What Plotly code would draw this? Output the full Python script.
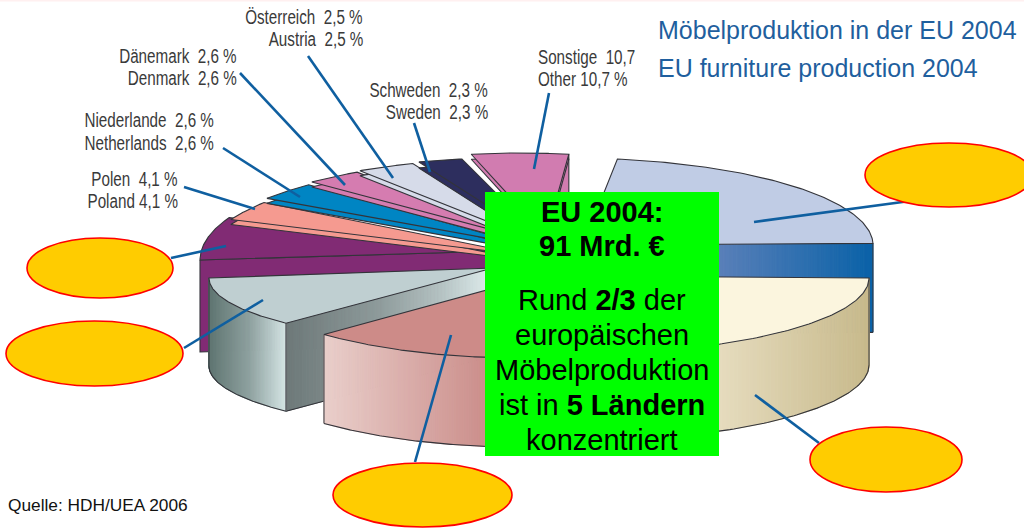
import numpy as np
import plotly.graph_objects as go

# ---------- data (hidden labels: values) ----------
SLICE_NAMES = ["Sonstige", "Schweden", "Österreich", "Dänemark", "Niederlande", "Polen",
               "Verdeckt A", "Verdeckt B", "Verdeckt C", "Verdeckt D", "Verdeckt E"]
SLICE_VALUES = [10.7, 2.3, 2.5, 2.6, 2.6, 4.1, 6.0, 12.0, 11.0, 24.0, 22.2]
LABEL_LINES = [
    ("Österreich\u00a0\u00a02,5 %", "Austria\u00a0\u00a02,5 %"),
    ("Dänemark\u00a0\u00a02,6 %", "Denmark\u00a0\u00a02,6 %"),
    ("Niederlande\u00a0\u00a02,6 %", "Netherlands\u00a0\u00a02,6 %"),
    ("Polen\u00a0\u00a04,1 %", "Poland 4,1 %"),
    ("Schweden\u00a0\u00a02,3 %", "Sweden\u00a0\u00a02,3 %"),
    ("Sonstige\u00a0\u00a010,7", "Other 10,7 %"),
]
TITLE_LINES = ["Möbelproduktion in der EU 2004", "EU furniture production 2004"]
BOX_LINES = ["<b>EU 2004:</b>", "<b>91 Mrd. €</b>", "Rund <b>2/3</b> der", "europäischen",
             "Möbelproduktion", "ist in <b>5 Ländern</b>", "konzentriert"]
SOURCE = "Quelle: HDH/UEA 2006"

# ---------- drawing parameters: projection of each slice ----------
# name: cx, cy, rx, ry, start angle, degrees-per-percent factor, apex, colour
VAL = dict(zip(SLICE_NAMES, SLICE_VALUES))
PROJ = {
    "Verdeckt A": (490, 260, 290, 97, 180, 1.2, (500, 251), "#812b74"),
    "Polen": (505, 262, 305, 97, 154, 0.8, (530, 256), "#f59a90"),
    "Niederlande": (505, 259, 305, 97, 141.3, 1.2, (530, 246), "#0085c3"),
    "Dänemark": (505, 257, 305, 97, 129.3, 1.1, (530, 240), "#d57cb0"),
    "Österreich": (505, 256, 305, 97, 118.4, 1.2, (529, 238), "#d6dbe9"),
    "Schweden": (505, 255, 305, 97, 106.4, 1, (546, 243), "#2d2e5e"),
    "Sonstige": (520, 250, 305, 97, 99.2, 0.478, (546, 236), "#d17cb0"),
    "Verdeckt E": (570, 245, 303, 87, 81, 1, (583, 245), "#c0cce5"),
    "Verdeckt B": (493, 278, 284, 66, -136.8, 1, (493, 268), "#bfcfd1"),
    "Verdeckt D": (575, 278, 294, 76, 0, 1, (575, 276), "#fbf5de"),
    "Verdeckt C": (520, 261, 300, 97, -91.2, 1, (560, 270), "#cd8b88"),
}
EDGE = "#33343a"
LEADER = "#0f5fa0"


def arc(name, n=96):
    cx, cy, rx, ry, start, k, apex, col = PROJ[name]
    t = np.radians(np.linspace(start, start - VAL[name] * 3.6 * k, n))
    return cx + rx * np.cos(t), cy - ry * np.sin(t)


fig = go.Figure()


def poly(x, y, fill, line=None, w=1.0):
    fig.add_trace(go.Scatter(x=list(x), y=list(y), mode="lines", fill="toself", fillcolor=fill,
                             line=dict(color=line or fill, width=w), hoverinfo="skip", showlegend=False))


def stroke(x, y, col=EDGE, w=1.0):
    fig.add_trace(go.Scatter(x=list(x), y=list(y), mode="lines", line=dict(color=col, width=w),
                             hoverinfo="skip", showlegend=False))


def wedge(name, dy=0):
    ax, ay = arc(name)
    apex = PROJ[name][6]
    poly(np.r_[apex[0], ax, apex[0]], np.r_[apex[1], ay, apex[1]] + dy, PROJ[name][7], EDGE, 1.1)


def hex2rgb(c):
    return np.array([int(c[i:i + 2], 16) for i in (1, 3, 5)], float)


def shade(x, stops):
    xs = [s[0] for s in stops]
    cols = np.array([hex2rgb(s[1]) for s in stops])
    v = [np.interp(x, xs, cols[:, i]) for i in range(3)]
    return "rgb(%d,%d,%d)" % tuple(v)


def wall(xs, ys, h, stops):
    for i in range(len(xs) - 1):
        xm = (xs[i] + xs[i + 1]) / 2
        poly([xs[i], xs[i + 1], xs[i + 1], xs[i], xs[i]],
             [ys[i], ys[i + 1], ys[i + 1] + h, ys[i] + h, ys[i]], shade(xm, stops), None, 1.0)
    stroke(xs, np.asarray(ys) + h, EDGE, 1.1)
    stroke([xs[0], xs[0]], [ys[0], ys[0] + h], EDGE, 1.0)
    stroke([xs[-1], xs[-1]], [ys[-1], ys[-1] + h], EDGE, 1.0)


def cut(p0, p1, n=90):
    return np.linspace(p0[0], p1[0], n), np.linspace(p0[1], p1[1], n)


# purple: wall behind, then top
ax, ay = arc("Verdeckt A")
pa = PROJ["Verdeckt A"][6]
poly([ax[0], ax[0], pa[0], pa[0], ax[0]],
     [ay[0], ay[0] + 92, pa[1] + 92, pa[1], ay[0]], "#812b74", EDGE, 1.1)
wedge("Verdeckt A")

# thin back slices: lower copy gives the narrow stripe
for nm, stripe in [("Polen", 5), ("Niederlande", 5), ("Dänemark", 5), ("Österreich", 5), ("Schweden", 6)]:
    wedge(nm, stripe)
    wedge(nm)

# "other" slice with its side face
ax, ay = arc("Sonstige")
pa = PROJ["Sonstige"][6]
poly([ax[-1], ax[-1], pa[0], ax[-1]], [ay[-1], ay[-1] + 60, pa[1], ay[-1]], "#d17cb0", EDGE, 1.1)
wedge("Sonstige", 5)
wedge("Sonstige")

# large slice upper right
ax, ay = arc("Verdeckt E")
pa = PROJ["Verdeckt E"][6]
xs, ys = cut(pa, (ax[-1], ay[-1]))
wall(xs, ys, 89, [(604, "#a9bbdc"), (719, "#5a80b9"), (873, "#0a62a8")])
wedge("Verdeckt E")

# grey slice
ax, ay = arc("Verdeckt B")
pa = PROJ["Verdeckt B"][6]
xs, ys = cut((ax[0], ay[0]), pa)
wall(xs, ys, 88, [(288, "#6e7a7a"), (380, "#8f9c9c"), (440, "#b4c2c2"), (485, "#dbe8e8")])
wall(ax[::-1], ay[::-1], 88, [(209, "#5f7571"), (250, "#8fa2a0"), (288, "#d8e8e8")])
wedge("Verdeckt B")

# cream slice
ax, ay = arc("Verdeckt D")
wall(ax, ay, 87, [(719, "#e6dcbe"), (869, "#c8ba8c")])
wedge("Verdeckt D")

# rose slice
ax, ay = arc("Verdeckt C")
wall(ax[::-1], ay[::-1], 89, [(323, "#ead0cc"), (485, "#cc8f8c")])
wedge("Verdeckt C")

# leader lines from label to slice
LEADERS = [((549, 93), (534, 169)), ((414, 123), (430, 172)), ((308, 56), (393, 178)),
           ((240, 73), (345, 185)), ((223, 148), (300, 197)), ((184, 187), (255, 209)),
           ((171, 258), (226, 246)), ((184, 348), (263, 300)), ((415, 462), (451, 335)),
           ((819, 443), (755, 395)), ((910, 201), (754, 222))]
for a, b in LEADERS:
    stroke([a[0], b[0]], [a[1], b[1]], LEADER, 2.6)

shapes = [dict(type="rect", x0=0, x1=1024, y0=0, y1=1.5, fillcolor="#fff0f0", line_width=0, layer="below")]
for cx, cy, rx, ry in [(949, 175, 84, 32), (100, 268, 73, 30), (94.5, 353.5, 88.5, 32.5),
                       (422.5, 495, 89.5, 32), (886, 459.5, 76, 32.5)]:
    shapes.append(dict(type="circle", x0=cx - rx, x1=cx + rx, y0=cy - ry, y1=cy + ry,
                       fillcolor="#ffcc00", line=dict(color="#ff0000", width=1.6)))
shapes.append(dict(type="rect", x0=485, x1=719, y0=192, y1=456, fillcolor="#00ff00", line_width=0))

ann = []


def text(s, x, y, size, col, anchor="left"):
    dx = {"left": -2, "right": 2, "center": 0}[anchor]
    ann.append(dict(text=s, x=x + dx, y=y, xref="x", yref="y", xanchor=anchor, yanchor="middle", showarrow=False,
                    font=dict(size=size, color=col, family="Liberation Sans")))


LABEL_POS = [(363, 17, 39, "right"), (237, 56, 78, "right"), (214, 120, 143, "right"),
             (178, 179, 201, "right"), (488, 90, 112, "right"), (538, 57, 79, "left")]
for (a, b), (x, y1, y2, anc) in zip(LABEL_LINES, LABEL_POS):
    text(a, x, y1, 19.5, "#3a3a3a", anc)
    text(b, x, y2, 19.5, "#3a3a3a", anc)

text(TITLE_LINES[0], 658, 30, 25, "#1f5f9e")
text(TITLE_LINES[1], 658, 68, 25, "#1f5f9e")
text(SOURCE, 8, 505, 17.3, "#111111")
for s, y in zip(BOX_LINES, [212, 246, 300, 335, 370, 405, 440]):
    text(s, 602, y, 29, "#000000", "center")

fig.update_layout(width=1024, height=529, margin=dict(l=0, r=0, t=0, b=0), showlegend=False,
                  paper_bgcolor="white", plot_bgcolor="white", shapes=shapes, annotations=ann,
                  xaxis=dict(range=[0, 1024], visible=False, fixedrange=True),
                  yaxis=dict(range=[529, 0], visible=False, fixedrange=True))

# the labels in the source are set in a condensed face: squeeze the real text horizontally
POST = """
document.body.style.margin='0';document.body.style.overflow='hidden';
document.querySelectorAll('.annotation-text').forEach(function(t){
  var s=t.textContent;
  if(!(/ %$/.test(s)||/^Sonstige/.test(s))) return;
  var left=/^(Sonstige|Other)/.test(s);
  var b0=t.getBBox();
  t.setAttribute('lengthAdjust','spacingAndGlyphs');
  t.setAttribute('textLength',t.getComputedTextLength()*0.78);
  var b1=t.getBBox();
  var dx=left?(b0.x-b1.x):((b0.x+b0.width)-(b1.x+b1.width));
  t.setAttribute('x',parseFloat(t.getAttribute('x')||0)+dx);
});
"""
fig.write_html("out.html", config=dict(displayModeBar=False, responsive=False), post_script=POST)
